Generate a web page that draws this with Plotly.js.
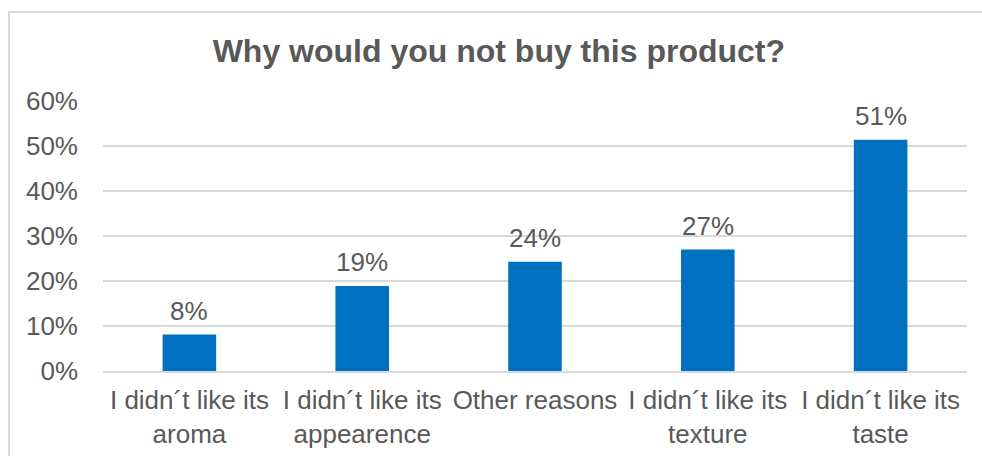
<!DOCTYPE html>
<html>
<head>
<meta charset="utf-8">
<script src="https://cdn.plot.ly/plotly-3.0.1.min.js"></script>
<style>
  html, body { margin: 0; padding: 0; background: #ffffff; overflow: hidden; }
  #wrap { position: relative; width: 982px; height: 456px; overflow: hidden; }
  #chart { position: absolute; left: 0; top: 0; width: 982px; height: 456px; }
  #frame { position: absolute; left: 8px; top: 11px; width: 1200px; height: 600px;
           border-left: 2px solid #d9d9d9; border-top: 2px solid #d9d9d9;
           border-right: none; border-bottom: none; pointer-events: none; }
</style>
</head>
<body>
<div id="wrap">
  <div id="chart"></div>
  <div id="frame"></div>
</div>
<script>
const categories = [
  "I didn\u00b4t like its<br>aroma",
  "I didn\u00b4t like its<br>appearence",
  "Other reasons",
  "I didn\u00b4t like its<br>texture",
  "I didn\u00b4t like its<br>taste"
];
const values = [0.081, 0.189, 0.243, 0.270, 0.514];
const tickVals = [0, 0.1, 0.2, 0.3, 0.4, 0.5, 0.6];
const tickText = ["0%", "10%", "20%", "30%", "40%", "50%", "60%"];
const chartTitle = "Why would you not buy this product?";

const textColor = "#595959";
const fontFam = "Liberation Sans, Arial, sans-serif";

const trace = {
  type: "bar",
  x: categories,
  y: values,
  marker: { color: "#0070c0" },
  hoverinfo: "none"
};

const annotations = categories.map((c, i) => ({
  x: c, y: values[i], xref: "x", yref: "y",
  text: Math.round(values[i] * 100) + "%",
  showarrow: false, yanchor: "bottom", yshift: 7,
  font: { family: fontFam, size: 26, color: textColor }
}));

const layout = {
  width: 982, height: 456,
  margin: { l: 103, r: 15, t: 101, b: 85 },
  paper_bgcolor: "#ffffff",
  plot_bgcolor: "#ffffff",
  bargap: 0.69,
  showlegend: false,
  title: {
    text: "<b>" + chartTitle + "</b>",
    font: { family: fontFam, size: 32, color: textColor },
    x: 0.508, xanchor: "center",
    yref: "container", y: 1 - 51 / 456, yanchor: "middle"
  },
  xaxis: {
    type: "category",
    showgrid: false,
    showline: true, linecolor: "#d9d9d9", linewidth: 2,
    ticks: "", ticklabelstandoff: 5,
    tickfont: { family: fontFam, size: 26, color: textColor },
    fixedrange: true
  },
  yaxis: {
    range: [0, 0.6],
    tickvals: tickVals, ticktext: tickText,
    showgrid: true, gridcolor: "#d9d9d9", gridwidth: 1.5,
    zeroline: false, showline: false,
    ticks: "", ticklabelstandoff: 24,
    tickfont: { family: fontFam, size: 26, color: textColor },
    fixedrange: true
  },
  annotations: annotations
};

Plotly.newPlot("chart", [trace], layout, { displayModeBar: false, staticPlot: true });
</script>
</body>
</html>
